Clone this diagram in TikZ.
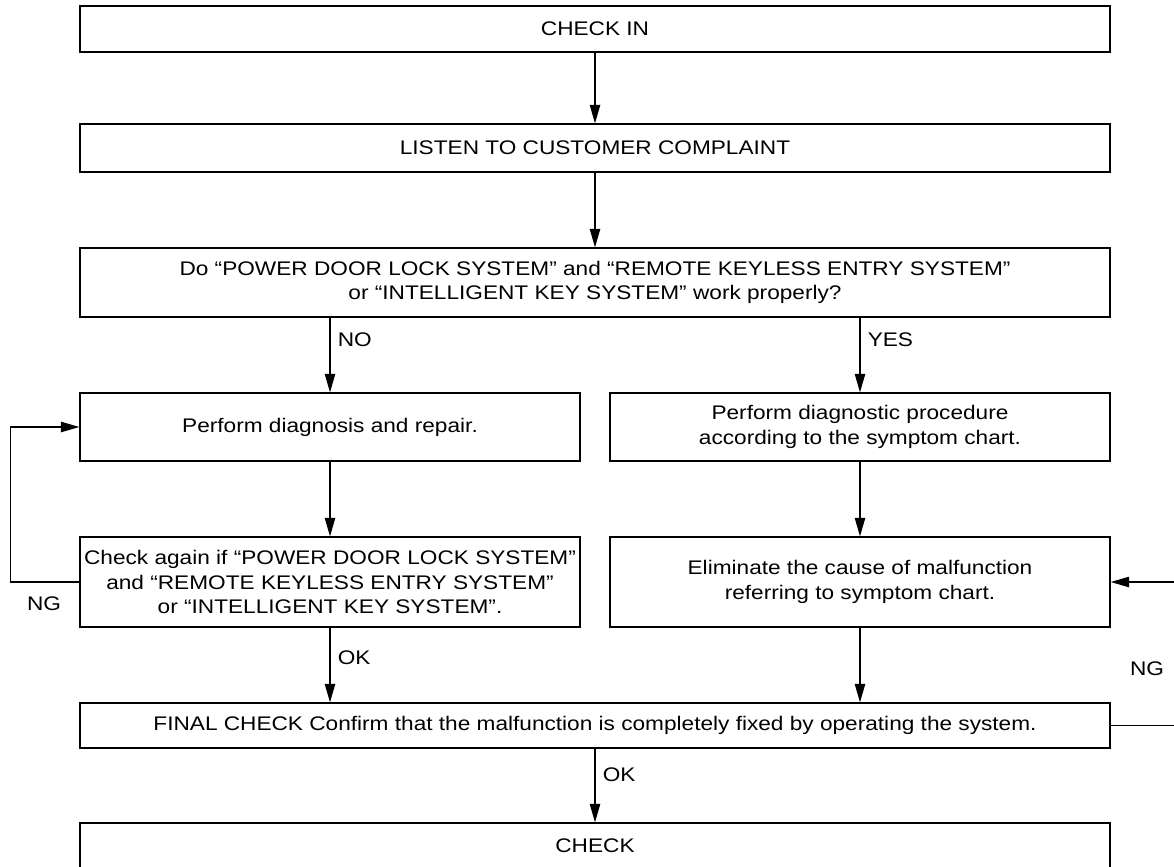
\documentclass[tikz,border=0pt]{standalone}
\usepackage{fontspec}
\setmainfont{Liberation Sans}[FakeStretch=1.15]
\usetikzlibrary{arrows.meta}
\tikzset{
  base/.style={font=\fontsize{14}{17.5}\selectfont, align=center, inner sep=2pt, text=black},
  box/.style={base, rectangle, draw=black, fill=white, line width=1pt, inner xsep=0pt, minimum width=12.5cm},
  wide/.style={box, minimum width=25.75cm},
  arr/.style={-{Triangle[length=4.6mm,width=2.6mm]}, line width=0.8pt, draw=black},
  lbl/.style={base, inner sep=0pt},
}

\begin{document}
\begin{tikzpicture}
  \useasboundingbox (0,0) rectangle (29.35,-21.675);
  \node[wide,minimum height=1.15cm] (checkin) at (14.875,-0.725) {CHECK IN};
  \node[wide,minimum height=1.2cm] (listen) at (14.875,-3.7) {LISTEN TO CUSTOMER COMPLAINT};
  \node[wide,minimum height=1.725cm] (ask) at (14.875,-7.0625) {Do “POWER DOOR LOCK SYSTEM” and “REMOTE KEYLESS ENTRY SYSTEM”\\or “INTELLIGENT KEY SYSTEM” work properly?};
  \node[box,minimum height=1.7cm] (diag) at (8.25,-10.675) {Perform diagnosis and repair.};
  \node[box,minimum height=1.7cm] (proc) at (21.5,-10.675) {Perform diagnostic procedure\\according to the symptom chart.};
  \node[box,minimum height=2.25cm] (again) at (8.25,-14.55) {Check again if “POWER DOOR LOCK SYSTEM”\\and “REMOTE KEYLESS ENTRY SYSTEM”\\or “INTELLIGENT KEY SYSTEM”.};
  \node[box,minimum height=2.25cm] (elim) at (21.5,-14.55) {Eliminate the cause of malfunction\\referring to symptom chart.};
  \node[wide,minimum height=1.125cm] (final) at (14.875,-18.1375) {FINAL CHECK Confirm that the malfunction is completely fixed by operating the system.};
  \node[wide,minimum height=1.15cm] (result) at (14.875,-21.15) {CHECK};
  \coordinate (rloop) at (29.4,0);
  % main flow
  \draw[arr] (checkin) -- (listen);
  \draw[arr] (listen) -- (ask);
  \draw[arr] (ask.south -| diag) -- node[lbl,pos=0.3,right,xshift=1.8mm]{NO} (diag);
  \draw[arr] (ask.south -| proc) -- node[lbl,pos=0.3,right,xshift=1.8mm]{YES} (proc);
  \draw[arr] (diag) -- (again);
  \draw[arr] (proc) -- (elim);
  \draw[arr] (again) -- node[lbl,pos=0.4,right,xshift=1.8mm]{OK} (again.south |- final.north);
  \draw[arr] (elim) -- (elim.south |- final.north);
  \draw[arr] (final) -- node[lbl,pos=0.35,right,xshift=1.8mm]{OK} (result);
  % NG loops
  \draw[arr] (again.west) -- ++(-1.725,0) |- (diag.west);
  \node[lbl] (ngleft) at (1.1,-15.1) {NG};
  \draw[arr] (final.east) -- (final.east -| rloop) |- (elim.east);
  \node[lbl] (ngright) at (28.675,-16.725) {NG};
\end{tikzpicture}
\end{document}
